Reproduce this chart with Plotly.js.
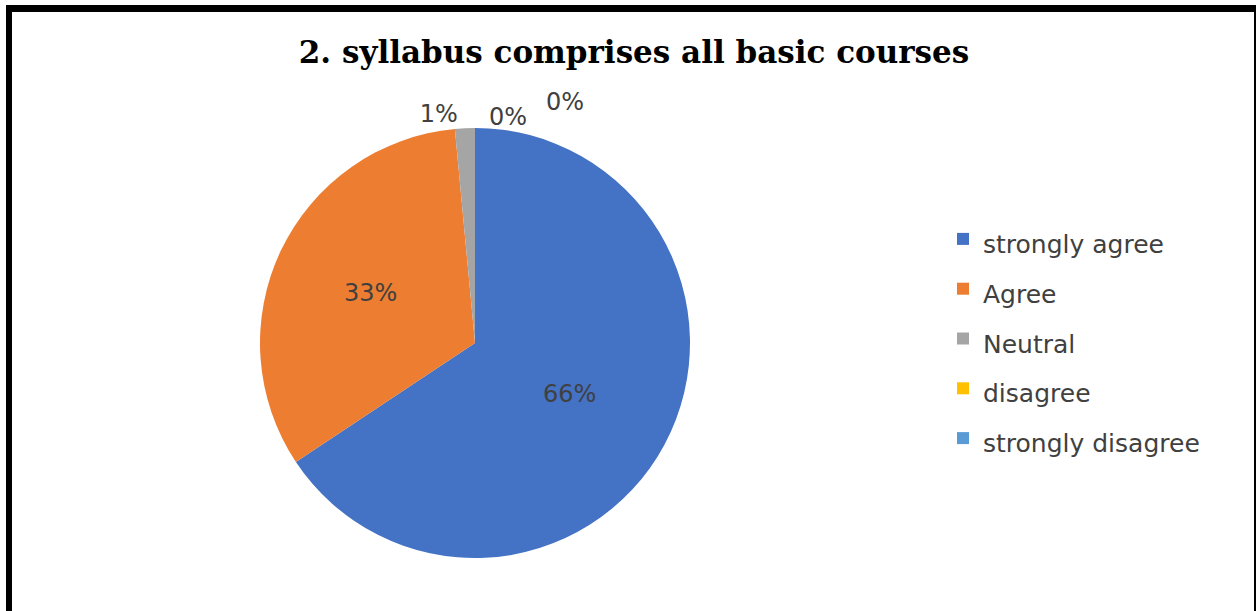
<!DOCTYPE html>
<html>
<head>
<meta charset="utf-8">
<script src="https://cdn.plot.ly/plotly-3.0.1.min.js"></script>
<style>
  html, body { margin: 0; padding: 0; background: #fff; }
  #wrap { position: relative; width: 1258px; height: 611px; overflow: hidden; }
  #chart { position: absolute; left: 0; top: 0; width: 1258px; height: 611px; }
  #frame { position: absolute; left: 6px; top: 5px; width: 1242px; height: 620px;
           border-left: 6px solid #000; border-top: 7px solid #000; border-right: 2px solid #000;
           pointer-events: none; }
</style>
</head>
<body>
<div id="wrap">
  <div id="chart"></div>
  <div id="frame"></div>
</div>
<script>
const chartTitle = "2. syllabus comprises all basic courses";
const categories = ["strongly agree", "Agree", "Neutral", "disagree", "strongly disagree"];
const values = [66, 33, 1.5, 0, 0];
const colors = ["#4472C4", "#ED7D31", "#A5A5A5", "#FFC000", "#5B9BD5"];

const W = 1258, H = 611;
const cx = 475, cy = 343, r = 215;
const labelFont = "DejaVu Sans, sans-serif";
const total = values.reduce((a, b) => a + b, 0);
const pctText = values.map(v => Math.round(v / total * 100) + "%");

// zero-valued slices get their labels as annotations placed side by side (as in the reference)
const sliceText = values.map((v, i) => v > 0 ? pctText[i] : "");
const zeroIdx = values.map((v, i) => v === 0 ? i : -1).filter(i => i >= 0);
const zeroLabelPos = [[508, 117], [565, 102]];

const trace = {
  type: "pie",
  labels: categories.map(c => '<span style="font-size:25px">' + c + '</span>'),
  values: values,
  text: sliceText,
  sort: false,
  direction: "clockwise",
  rotation: 0,
  marker: { colors: colors, line: { width: 0 } },
  textinfo: "text",
  textposition: "auto",
  insidetextorientation: "horizontal",
  textfont: { family: labelFont, size: 24, color: "#404040" },
  outsidetextfont: { family: labelFont, size: 24, color: "#404040" },
  insidetextfont: { family: labelFont, size: 24, color: "#404040" },
  automargin: false,
  showlegend: true,
  domain: {
    x: [(cx - r) / W, (cx + r) / W],
    y: [(H - cy - r) / H, (H - cy + r) / H]
  },
  hoverinfo: "label+percent"
};

const annotations = zeroIdx.map((idx, k) => ({
  text: pctText[idx],
  xref: "paper", yref: "paper",
  x: zeroLabelPos[k][0] / W, y: 1 - zeroLabelPos[k][1] / H,
  xanchor: "center", yanchor: "middle",
  showarrow: false,
  font: { family: labelFont, size: 24, color: "#404040" }
}));

const layout = {
  width: W, height: H,
  margin: { l: 0, r: 0, t: 0, b: 0 },
  paper_bgcolor: "#ffffff",
  title: {
    text: "<b>" + chartTitle + "</b>",
    font: { family: "DejaVu Serif, serif", size: 31, color: "#000000" },
    x: 634 / W, xanchor: "center",
    y: 1 - 52 / H, yanchor: "middle", yref: "container", xref: "paper"
  },
  legend: {
    x: 943 / W, xanchor: "left",
    y: 1 - 209 / H, yanchor: "top",
    font: { family: labelFont, size: 36, color: "#404040" },
    bgcolor: "rgba(0,0,0,0)",
    traceorder: "normal"
  },
  annotations: annotations
};

Plotly.newPlot("chart", [trace], layout, { displayModeBar: false, staticPlot: true });
</script>
</body>
</html>
